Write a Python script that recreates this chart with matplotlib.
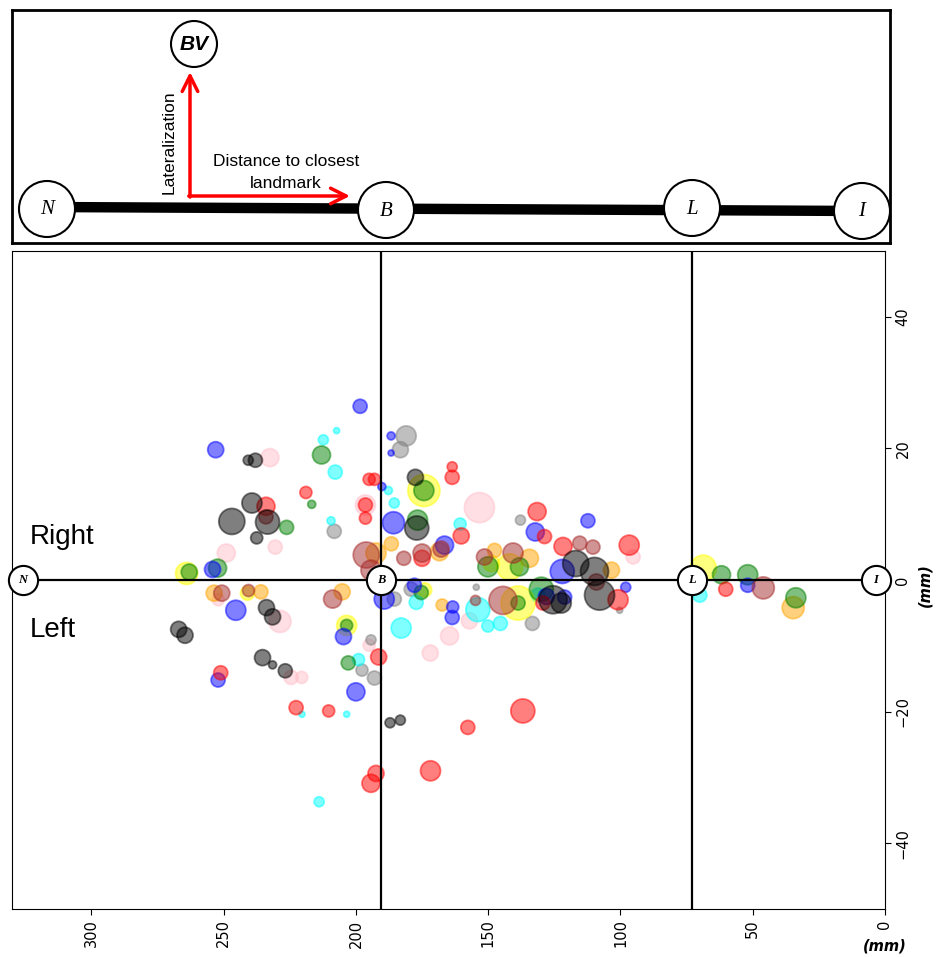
import matplotlib
matplotlib.use("Agg")
import matplotlib.pyplot as plt
from matplotlib.patches import Ellipse

# ---------------- data ----------------
# each group: distance to closest landmark along the axis (mm), lateralization (mm), size value
blue_x = [198.4, 186.7, 186.7, 253.0, 190.2, 185.8, 132.2, 112.3, 166.5, 122.0, 254.2, 98.0, 121.1, 128.0, 177.9, 163.4, 163.6, 189.3, 51.9, 245.4, 204.7, 252.1, 200.0]
blue_y = [26.4, 21.9, 19.3, 19.8, 14.2, 8.7, 7.3, 9.0, 5.3, 1.3, 1.6, -1.1, -2.6, -2.5, -0.8, -4.1, -5.7, -2.9, -0.8, -4.6, -8.6, -15.2, -17.0]
blue_s = [7, 4, 3, 8, 4, 11, 9, 7, 9, 12, 8, 5, 7, 8, 7, 6, 7, 10, 7, 10, 8, 7, 9]

gray_x = [181.0, 183.2, 208.2, 137.8, 179.1, 154.5, 100.3, 133.3, 185.5, 194.3, 197.7, 193.0]
gray_y = [21.9, 19.8, 7.4, 9.1, -1.4, -1.1, -4.6, -6.6, -2.9, -9.1, -13.7, -14.9]
gray_s = [10, 8, 7, 5, 7, 3, 3, 7, 7, 5, 6, 7]

black_x = [240.7, 238.0, 239.3, 246.9, 233.4, 237.5, 177.5, 177.0, 116.9, 109.8, 107.9, 122.4, 125.5, 233.8, 231.5, 267.0, 264.6, 235.3, 231.5, 226.7, 187.1, 183.2]
black_y = [18.2, 18.2, 11.7, 8.9, 8.8, 6.4, 15.6, 7.9, 2.5, 1.3, -2.3, -3.5, -3.0, -4.2, -5.6, -7.5, -8.4, -11.8, -12.9, -13.8, -21.7, -21.3]
black_s = [5, 7, 10, 13, 12, 6, 8, 12, 13, 14, 15, 10, 14, 8, 8, 8, 8, 8, 4, 7, 5, 5]

red_x = [195.0, 193.0, 218.9, 234.0, 196.4, 196.4, 163.6, 163.6, 131.5, 128.7, 160.2, 175.0, 121.7, 96.7, 100.9, 60.2, 191.4, 251.1, 222.6, 210.3, 136.9, 157.7, 192.4, 194.3, 171.8, 129.3]
red_y = [15.3, 15.3, 13.3, 11.2, 11.4, 9.4, 17.2, 15.6, 10.4, 6.6, 6.7, 3.3, 5.1, 5.3, -3.0, -1.4, -11.7, -14.1, -19.4, -19.9, -19.9, -22.4, -29.4, -30.9, -29.0, -3.5]
red_s = [6, 6, 6, 9, 7, 6, 5, 7, 9, 7, 8, 8, 9, 10, 10, 7, 8, 7, 7, 6, 12, 7, 8, 9, 10, 7]

green_x = [213.0, 216.7, 226.2, 176.7, 263.0, 252.3, 150.1, 138.2, 174.3, 175.3, 129.9, 138.7, 61.8, 51.9, 33.7, 202.9, 203.5]
green_y = [19.0, 11.5, 8.0, 9.1, 1.2, 1.8, 2.0, 2.0, 13.6, -1.9, -1.4, -3.5, 0.8, 0.8, -2.7, -12.6, -6.9]
green_s = [9, 4, 7, 10, 8, 9, 10, 9, 10, 7, 12, 7, 9, 10, 10, 7, 6]

cyan_x = [207.3, 212.3, 207.8, 185.5, 187.7, 209.4, 160.6, 177.2, 153.9, 131.2, 150.1, 145.4, 182.9, 70.0, 199.0, 220.4, 203.5, 213.9]
cyan_y = [22.7, 21.3, 16.4, 11.7, 13.6, 9.0, 8.5, -3.4, -4.5, -2.3, -7.0, -6.6, -7.3, -2.3, -12.1, -20.4, -20.4, -33.7]
cyan_s = [3, 5, 7, 5, 4, 4, 6, 7, 12, 7, 6, 7, 10, 7, 6, 3, 3, 5]

pink_x = [232.5, 230.5, 249.0, 196.4, 153.3, 95.2, 228.7, 224.5, 220.5, 157.1, 164.6, 171.9, 195.0, 252.0]
pink_y = [18.6, 5.0, 4.1, 11.4, 11.0, 3.5, -6.3, -14.8, -14.8, -6.2, -8.5, -11.1, -9.9, -3.0]
pink_s = [9, 7, 9, 10, 15, 7, 11, 7, 6, 8, 9, 8, 6, 6]

yellow_x = [174.3, 264.0, 148.8, 141.9, 241.0, 203.5, 138.7, 68.7, 174.0]
yellow_y = [13.6, 1.0, 2.5, 2.0, -2.0, -6.9, -3.5, 1.8, -1.5]
yellow_s = [16, 11, 8, 13, 7, 10, 17, 13, 7]

orange_x = [192.4, 186.6, 168.4, 147.6, 134.4, 103.4, 253.6, 235.9, 205.2, 167.4, 34.7]
orange_y = [4.1, 5.5, 4.3, 4.5, 3.3, 1.5, -2.0, -1.8, -1.8, -3.8, -4.2]
orange_s = [10, 7, 9, 7, 9, 8, 8, 7, 8, 6, 11]

brown_x = [196.1, 194.3, 167.8, 175.0, 181.9, 151.4, 140.6, 115.4, 110.4, 109.1, 46.0, 250.7, 240.6, 208.8, 144.4, 154.8, 234.0]
brown_y = [3.8, 1.5, 4.7, 4.1, 3.3, 3.5, 4.1, 5.6, 5.0, -0.3, -1.2, -2.0, -1.6, -2.9, -3.1, -3.1, 9.6]
brown_s = [13, 10, 8, 9, 7, 8, 10, 7, 7, 8, 11, 8, 6, 9, 14, 5, 7]

groups = [
    ("pink", pink_x, pink_y, pink_s),
    ("gray", gray_x, gray_y, gray_s),
    ("cyan", cyan_x, cyan_y, cyan_s),
    ("yellow", yellow_x, yellow_y, yellow_s),
    ("orange", orange_x, orange_y, orange_s),
    ("green", green_x, green_y, green_s),
    ("blue", blue_x, blue_y, blue_s),
    ("red", red_x, red_y, red_s),
    ("brown", brown_x, brown_y, brown_s),
    ("black", black_x, black_y, black_s),
]

landmark_names = ["N", "B", "L", "I"]
landmark_pos = [326.0, 190.5, 73.0, 3.4]
x_ticks = [300, 250, 200, 150, 100, 50, 0]
y_ticks = [-40, -20, 0, 20, 40]

# ---------------- figure ----------------
W, H = 936, 957
fig = plt.figure(figsize=(W / 100, H / 100), dpi=100)

def fx(px):
    return px / W

def fy(py):
    return 1 - py / H

# ---- top schematic ----
axt = fig.add_axes([fx(12), fy(243), fx(890) - fx(12), fy(10) - fy(243)])
axt.set_xlim(12, 890)
axt.set_ylim(243, 10)
axt.set_xticks([])
axt.set_yticks([])
for sp in axt.spines.values():
    sp.set_linewidth(2)
    sp.set_color("black")

axt.plot([47, 862], [207, 211], color="black", lw=7.5, solid_capstyle="butt", zorder=1)
top_nodes = [("N", 47, 209), ("B", 386, 210), ("L", 692, 208), ("I", 862, 211)]
for name, cx, cy in top_nodes:
    axt.add_patch(Ellipse((cx, cy), 56, 56, facecolor="white", edgecolor="black", lw=1.5, zorder=3))
    axt.text(cx, cy + 1, name, ha="center", va="center", fontsize=15, style="italic",
             family="Liberation Serif", zorder=4)
axt.add_patch(Ellipse((194, 44), 46, 46, facecolor="white", edgecolor="black", lw=1.5, zorder=3))
axt.text(194, 45, "BV", ha="center", va="center", fontsize=15, style="italic",
         weight="bold", family="Liberation Sans", zorder=4)

axt.annotate("", xy=(190, 72), xytext=(190, 197),
             arrowprops=dict(arrowstyle="->", color="red", lw=2.5, mutation_scale=28,
                             shrinkA=0, shrinkB=0), zorder=2)
axt.annotate("", xy=(350, 196), xytext=(188.8, 196),
             arrowprops=dict(arrowstyle="->", color="red", lw=2.5, mutation_scale=28,
                             shrinkA=0, shrinkB=0), zorder=2)
axt.text(169, 142, "Lateralization", rotation=90, ha="center", va="center",
         fontsize=12.5, family="Liberation Sans")
axt.text(286, 162, "Distance to closest", ha="center", va="center",
         fontsize=12.5, family="Liberation Sans")
axt.text(286, 184, "landmark", ha="center", va="center",
         fontsize=12.5, family="Liberation Sans")

# ---- scatter plot ----
ax = fig.add_axes([fx(12), fy(909), fx(885) - fx(12), fy(251) - fy(909)])
ax.set_xlim(330, 0)
ax.set_ylim(-50, 50)

for color, xs, ys, ss in groups:
    sizes = [(1.44 * r) ** 2 for r in ss]
    ax.scatter(xs, ys, s=sizes, color=color, alpha=0.5, edgecolors=color,
               linewidths=1.3, zorder=2)

ax.plot([landmark_pos[0], landmark_pos[-1]], [0, 0], color="black", lw=1.6, zorder=3)
for xv in landmark_pos[1:3]:
    ax.axvline(xv, color="black", lw=1.6, zorder=3)
ax.plot(landmark_pos, [0] * len(landmark_pos), "o", ms=21, mfc="white", mec="black",
        mew=1.5, zorder=5, clip_on=False)
for name, xv in zip(landmark_names, landmark_pos):
    ax.text(xv, 0, name, ha="center", va="center", fontsize=9, style="italic",
            weight="bold", family="Liberation Serif", zorder=6)

ax.set_xticks(x_ticks)
ax.set_xticklabels([str(v) for v in x_ticks], rotation=90, fontsize=10.5)
ax.yaxis.tick_right()
ax.set_yticks(y_ticks)
ax.set_yticklabels([("\u2212" + str(-v)) if v < 0 else str(v) for v in y_ticks],
                   rotation=90, va="center", fontsize=10.5)
ax.tick_params(length=4, width=0.8)

fig.text(fx(30), fy(537), "Right", ha="left", va="center", fontsize=20, family="Liberation Sans")
fig.text(fx(30), fy(630), "Left", ha="left", va="center", fontsize=20, family="Liberation Sans")
fig.text(fx(885), fy(946), "(mm)", ha="center", va="center", fontsize=10.5, style="italic", weight="bold")
fig.text(fx(925), fy(585), "(mm)", ha="center", va="center", fontsize=10.5, style="italic",
         weight="bold", rotation=90)

fig.savefig("out.png", dpi=100)
